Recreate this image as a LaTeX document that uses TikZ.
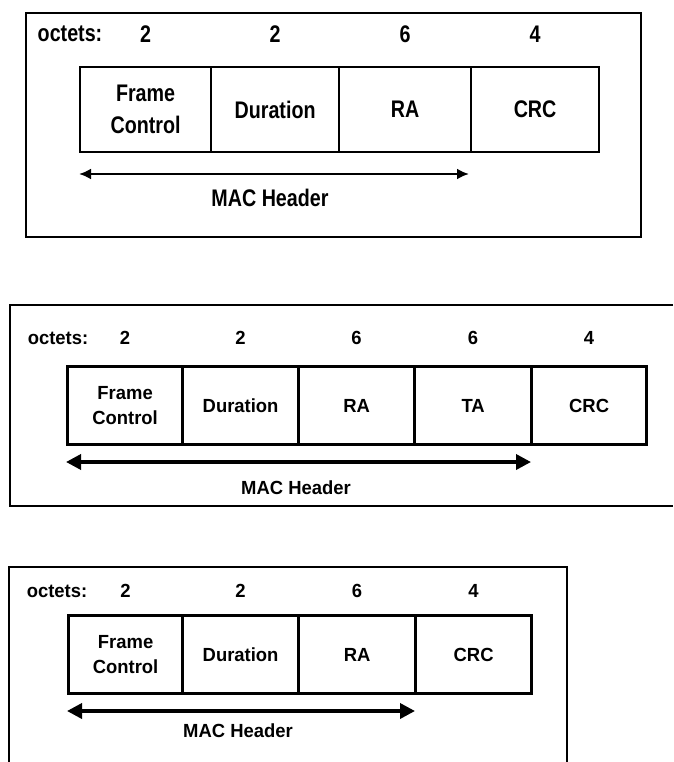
\documentclass[tikz,border=0pt]{standalone}
\usepackage{fontspec}
\usetikzlibrary{arrows.meta}
\newfontfamily\fontA{Liberation Sans}[FakeStretch=0.82]
\newfontfamily\fontB{Liberation Sans}[FakeStretch=0.97]
\begin{document}
\begin{tikzpicture}[x=1pt,y=-1pt,
  txtA/.style={font=\fontA\bfseries\fontsize{24}{32}\selectfont, inner sep=0pt, align=center},
  txtB/.style={font=\fontB\bfseries\fontsize{19}{25}\selectfont, inner sep=0pt, align=center},
  fieldA/.style={txtA, draw, line width=2.2pt, minimum height=85pt, anchor=north west},
  fieldB/.style={txtB, draw, line width=3.2pt, minimum height=78pt, anchor=north west},
  frameA/.style={line width=2.2pt},
  frameB/.style={line width=2.2pt},
  hdrA/.style={line width=2.4pt, {Latex[length=12pt,width=11pt]}-{Latex[length=12pt,width=11pt]}},
  hdrB/.style={line width=3.5pt, {Triangle[length=15pt,width=15pt]}-{Triangle[length=15pt,width=15pt]}}
]
\useasboundingbox (0,0) rectangle (673,762);

% ---------------- Panel 1 ----------------
\draw[frameA] (26,13) rectangle (641,237);
\node[txtA] (o1) at (70,34) {octets:};
\node[fieldA, minimum width=131pt] (fc1) at (79,66) {Frame\\Control};
\node[fieldA, minimum width=128pt] (du1) at (210,66) {Duration};
\node[fieldA, minimum width=132pt] (ra1) at (338,66) {RA};
\node[fieldA, minimum width=128pt] (crc1) at (470,66) {CRC};
\node[txtA] (n11) at (fc1.center |- o1) {2};
\node[txtA] (n12) at (du1.center |- o1) {2};
\node[txtA] (n13) at (ra1.center |- o1) {6};
\node[txtA] (n14) at (crc1.center |- o1) {4};
\coordinate (a1l) at (79,174);
\coordinate (a1r) at (469,174);
\draw[hdrA] (a1l) -- (a1r);
\node[txtA] (m1) at (270,198) {MAC Header};

% ---------------- Panel 2 ----------------
\draw[frameB] (673,305) -- (10,305) -- (10,506) -- (673,506);
\node[txtB] (o2) at (58,338) {octets:};
\node[fieldB, minimum width=115pt] (fc2) at (66,365) {Frame\\Control};
\node[fieldB, minimum width=116pt] (du2) at (181,365) {Duration};
\node[fieldB, minimum width=116pt] (ra2) at (297,365) {RA};
\node[fieldB, minimum width=117pt] (ta2) at (413,365) {TA};
\node[fieldB, minimum width=115pt] (crc2) at (530,365) {CRC};
\node[txtB] (n21) at (fc2.center |- o2) {2};
\node[txtB] (n22) at (du2.center |- o2) {2};
\node[txtB] (n23) at (ra2.center |- o2) {6};
\node[txtB] (n24) at (ta2.center |- o2) {6};
\node[txtB] (n25) at (crc2.center |- o2) {4};
\coordinate (a2l) at (66,462);
\coordinate (a2r) at (531,462);
\draw[hdrB] (a2l) -- (a2r);
\node[txtB] (m2) at (296,488) {MAC Header};

% ---------------- Panel 3 ----------------
\draw[frameB] (9,762) -- (9,567) -- (567,567) -- (567,762);
\node[txtB] (o3) at (57,591) {octets:};
\node[fieldB, minimum width=114pt] (fc3) at (67,614) {Frame\\Control};
\node[fieldB, minimum width=116pt] (du3) at (181,614) {Duration};
\node[fieldB, minimum width=117pt] (ra3) at (297,614) {RA};
\node[fieldB, minimum width=116pt] (crc3) at (414,614) {CRC};
\node[txtB] (n31) at (fc3.center |- o3) {2};
\node[txtB] (n32) at (du3.center |- o3) {2};
\node[txtB] (n33) at (ra3.center |- o3) {6};
\node[txtB] (n34) at (crc3.center |- o3) {4};
\coordinate (a3l) at (67,711);
\coordinate (a3r) at (415,711);
\draw[hdrB] (a3l) -- (a3r);
\node[txtB] (m3) at (238,731) {MAC Header};
\end{tikzpicture}
\end{document}
